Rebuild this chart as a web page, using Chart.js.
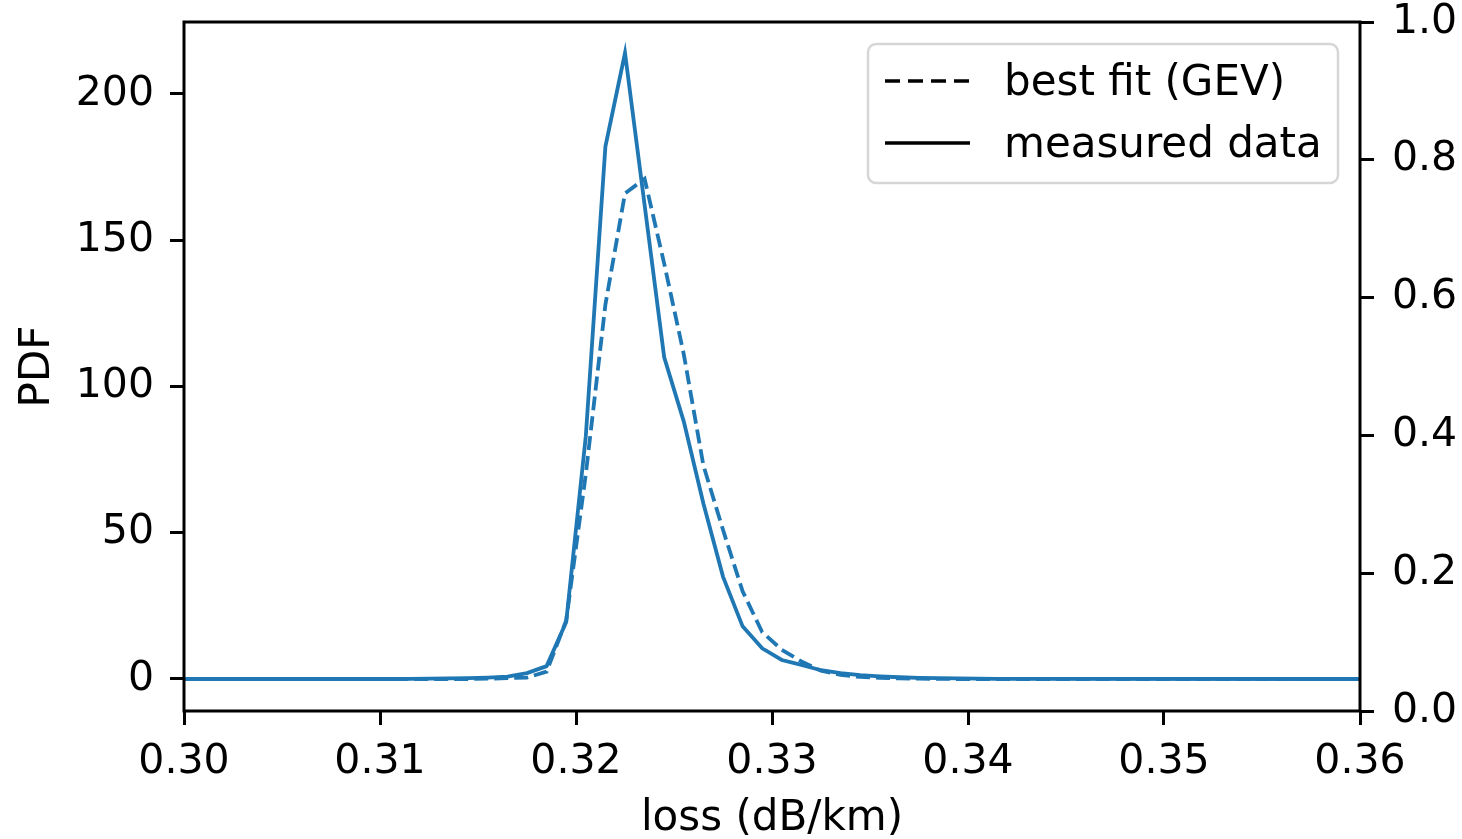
<!DOCTYPE html>
<html>
<head>
<meta charset="utf-8">
<script src="https://cdn.jsdelivr.net/npm/chart.js@4/dist/chart.umd.min.js"></script>
<style>
  html, body { margin: 0; padding: 0; background: #fff; }
  #wrap { width: 1462px; height: 839px; }
</style>
</head>
<body>
<div id="wrap"><canvas id="pdfChart" width="1462" height="839"></canvas></div>
<script>
// loss values (dB/km) at bin centres
const loss = [0.2995, 0.3105, 0.3115, 0.3125, 0.3135, 0.3145, 0.3155, 0.3165, 0.3175, 0.3185,
              0.3195, 0.3205, 0.3215, 0.3225, 0.3235, 0.3245, 0.3255, 0.3265, 0.3275, 0.3285,
              0.3295, 0.3305, 0.3315, 0.3325, 0.3335, 0.3345, 0.3355, 0.3365, 0.3375, 0.3385,
              0.3395, 0.3405, 0.3415, 0.3605];
const measured = [0, 0, 0.05, 0.1, 0.2, 0.3, 0.5, 0.8, 2, 4.4,
                  19.5, 83, 182, 214, 162, 110, 88, 60, 35, 18,
                  10.5, 6.5, 4.8, 3, 2, 1.3, 0.9, 0.6, 0.4, 0.3,
                  0.2, 0.1, 0.05, 0];
const gevFit = [0, 0, 0, 0, 0, 0, 0.1, 0.3, 0.5, 2.5,
                20, 70, 128, 166, 171, 142, 111, 73, 51, 30,
                16, 10, 6, 2.8, 1.4, 0.7, 0.4, 0.2, 0.1, 0.05,
                0, 0, 0, 0];

const xTicks = [0.30, 0.31, 0.32, 0.33, 0.34, 0.35, 0.36];
const yTicks = [0, 50, 100, 150, 200];
const y2Ticks = [0.0, 0.2, 0.4, 0.6, 0.8, 1.0];

const blue = '#1f77b4';
const tickFont = { family: 'DejaVu Sans', size: 41 };
const labelFont = { family: 'DejaVu Sans', size: 42 };

function pts(ys) {
    return loss.map((x, i) => ({ x: x, y: ys[i] }));
}

// plot frame (all four spines)
const framePlugin = {
    id: 'frame',
    afterDraw(chart) {
        const a = chart.chartArea;
        const ctx = chart.ctx;
        ctx.save();
        ctx.strokeStyle = '#000';
        ctx.lineWidth = 3;
        ctx.strokeRect(a.left, a.top, a.right - a.left, a.bottom - a.top);
        ctx.restore();
    }
};

// legend box in upper right, like matplotlib
const legendPlugin = {
    id: 'boxLegend',
    afterDatasetsDraw(chart) {
        const ctx = chart.ctx;
        const x0 = 868, y0 = 44, w = 470, h = 139, r = 8;
        ctx.save();
        ctx.beginPath();
        ctx.roundRect(x0, y0, w, h, r);
        ctx.fillStyle = 'rgba(255,255,255,0.8)';
        ctx.fill();
        ctx.strokeStyle = '#d6d6d6';
        ctx.lineWidth = 2.5;
        ctx.stroke();

        const rows = [
            { label: chart.data.datasets[0].label, dash: [15, 8], y: 81 },
            { label: chart.data.datasets[1].label, dash: [], y: 143 }
        ];
        ctx.font = '42px "DejaVu Sans"';
        ctx.textBaseline = 'middle';
        ctx.fillStyle = '#000';
        rows.forEach(row => {
            ctx.beginPath();
            ctx.setLineDash(row.dash);
            ctx.strokeStyle = '#000';
            ctx.lineWidth = 3.6;
            ctx.moveTo(885, row.y);
            ctx.lineTo(970, row.y);
            ctx.stroke();
            ctx.setLineDash([]);
            ctx.fillText(row.label, 1004, row.y + 3);
        });
        ctx.restore();
    }
};

const tickGrid = {
    drawOnChartArea: false,
    drawTicks: true,
    tickLength: 14,
    tickWidth: 3,
    tickColor: '#000'
};

// fixed box sizes so the plot area sits where the reference has it
function fitY(width) {
    return s => {
        s.width = width;
        s.paddingTop = 0;
        s.paddingBottom = 0;
    };
}

new Chart(document.getElementById('pdfChart').getContext('2d'), {
    type: 'line',
    data: {
        datasets: [{
            label: 'best fit (GEV)',
            data: pts(gevFit),
            borderColor: blue,
            borderWidth: 3.8,
            borderDash: [14, 6],
            pointRadius: 0,
            tension: 0,
            clip: 0
        }, {
            label: 'measured data',
            data: pts(measured),
            borderColor: blue,
            borderWidth: 3.8,
            pointRadius: 0,
            tension: 0,
            clip: 0
        }]
    },
    options: {
        responsive: false,
        animation: false,
        layout: { padding: { top: 22, left: 0, right: 0, bottom: 0 } },
        plugins: {
            legend: { display: false },
            tooltip: { enabled: false }
        },
        scales: {
            x: {
                type: 'linear',
                min: 0.30,
                max: 0.36,
                afterFit: s => {
                    s.height = 128;
                    s.paddingLeft = 0;
                    s.paddingRight = 0;
                },
                afterBuildTicks: s => { s.ticks = xTicks.map(v => ({ value: v })); },
                ticks: {
                    color: '#000',
                    font: tickFont,
                    padding: 13,
                    maxRotation: 0,
                    autoSkip: false,
                    callback: v => v.toFixed(2)
                },
                grid: tickGrid,
                border: { display: false },
                title: {
                    display: true,
                    text: 'loss (dB/km)',
                    color: '#000',
                    font: labelFont,
                    padding: { top: 0, bottom: -5 }
                }
            },
            y: {
                position: 'left',
                min: -10.94,
                max: 224.6,
                afterFit: fitY(184),
                afterBuildTicks: s => { s.ticks = yTicks.map(v => ({ value: v })); },
                ticks: {
                    color: '#000',
                    font: tickFont,
                    padding: 16,
                    autoSkip: false,
                    callback: v => String(v)
                },
                grid: tickGrid,
                border: { display: false },
                title: {
                    display: true,
                    text: 'PDF',
                    color: '#000',
                    font: labelFont,
                    padding: { top: 13, bottom: 0 }
                }
            },
            y2: {
                position: 'right',
                min: 0,
                max: 1,
                afterFit: fitY(102),
                afterBuildTicks: s => { s.ticks = y2Ticks.map(v => ({ value: v })); },
                ticks: {
                    color: '#000',
                    font: tickFont,
                    padding: 18,
                    autoSkip: false,
                    callback: v => v.toFixed(1)
                },
                grid: tickGrid,
                border: { display: false }
            }
        }
    },
    plugins: [framePlugin, legendPlugin]
});
</script>
</body>
</html>
